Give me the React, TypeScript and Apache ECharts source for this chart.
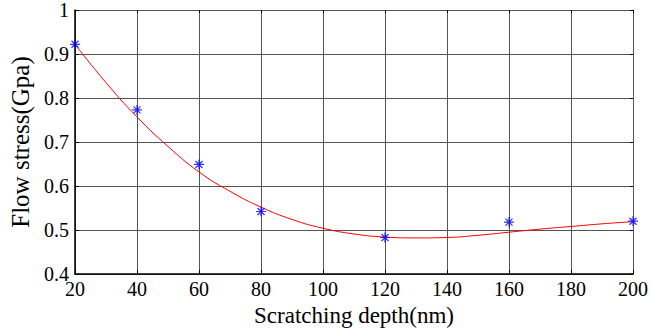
import React, { useEffect, useRef } from "react";
import * as echarts from "echarts";

const depthPoints = [20, 40, 60, 80, 120, 160, 200];
const stressPoints = [0.922, 0.773, 0.649, 0.542, 0.483, 0.518, 0.52];

const fitDepth = [20, 30, 40, 50, 60, 70, 80, 90, 100, 110, 120, 130, 140, 150, 160, 170, 180, 190, 200];
const fitStress = [0.922, 0.835, 0.757, 0.69, 0.632, 0.588, 0.552, 0.524, 0.504, 0.491, 0.484, 0.482, 0.483, 0.488, 0.495, 0.502, 0.508, 0.514, 0.519];

const FONT = "Liberation Serif";

const STAR =
  "path://M-0.6,-5L0.6,-5L0.6,5L-0.6,5Z" +
  "M-5,-0.6L5,-0.6L5,0.6L-5,0.6Z" +
  "M-3.95,-3.05L-3.05,-3.95L3.95,3.05L3.05,3.95Z" +
  "M3.05,-3.95L3.95,-3.05L-3.05,3.95L-3.95,3.05Z";

export default function App() {
  const ref = useRef<HTMLDivElement>(null);
  useEffect(() => {
    if (!ref.current) return;
    const chart = echarts.init(ref.current, null, { renderer: "svg" });
    const gridColor = "#555555";
    chart.setOption({
      animation: false,
      backgroundColor: "#ffffff",
      textStyle: { fontFamily: FONT },
      grid: { left: 75, right: 14, top: 7, bottom: 61, containLabel: false },
      xAxis: [
        {
          type: "value",
          min: 20,
          max: 200,
          interval: 20,
          name: "Scratching depth(nm)",
          nameLocation: "middle",
          nameGap: 25,
          nameTextStyle: { fontFamily: FONT, fontSize: 23, color: "#000" },
          axisLine: { show: true, lineStyle: { color: "#000", width: 1.5 } },
          axisTick: { show: true, inside: true, length: 4, lineStyle: { color: "#000" } },
          axisLabel: { fontFamily: FONT, fontSize: 20, color: "#000", margin: 5 },
          splitLine: { show: true, lineStyle: { color: gridColor, width: 1 } },
        },
        {
          type: "value",
          position: "top",
          min: 20,
          max: 200,
          interval: 20,
          axisLine: { show: true, lineStyle: { color: gridColor, width: 1 } },
          axisTick: { show: true, inside: true, length: 3, lineStyle: { color: "#000" } },
          axisLabel: { show: false },
          splitLine: { show: false },
        },
      ],
      yAxis: [
        {
          type: "value",
          min: 0.4,
          max: 1,
          interval: 0.1,
          name: "Flow stress(Gpa)",
          nameLocation: "middle",
          nameGap: 41,
          nameTextStyle: { fontFamily: FONT, fontSize: 25, color: "#000" },
          axisLine: { show: true, lineStyle: { color: "#000", width: 1.5 } },
          axisTick: { show: true, inside: true, length: 4, lineStyle: { color: "#000" } },
          axisLabel: {
            fontFamily: FONT,
            fontSize: 20,
            color: "#000",
            margin: 6,
            formatter: (v: number) => {
              const r = Math.round(v * 10) / 10;
              return r === 1 ? "1" : r.toFixed(1);
            },
          },
          splitLine: { show: true, lineStyle: { color: gridColor, width: 1 } },
        },
        {
          type: "value",
          position: "right",
          min: 0.4,
          max: 1,
          interval: 0.1,
          axisLine: { show: true, lineStyle: { color: gridColor, width: 1 } },
          axisTick: { show: true, inside: true, length: 3, lineStyle: { color: "#000" } },
          axisLabel: { show: false },
          splitLine: { show: false },
        },
      ],
      series: [
        {
          type: "line",
          data: fitDepth.map((d, i) => [d, fitStress[i]]),
          smooth: true,
          showSymbol: false,
          symbol: "none",
          lineStyle: { color: "#ff0000", width: 1 },
          clip: false,
          z: 3,
        },
        {
          type: "scatter",
          data: depthPoints.map((d, i) => [d, stressPoints[i]]),
          symbol: STAR,
          symbolSize: 10,
          itemStyle: { color: "#0000ff" },
          clip: false,
          z: 4,
        },
      ],
    });
    return () => chart.dispose();
  }, []);
  return (
    <div
      ref={ref}
      style={{ position: "fixed", left: 0, top: 0, width: 651, height: 335, background: "#fff" }}
    />
  );
}
